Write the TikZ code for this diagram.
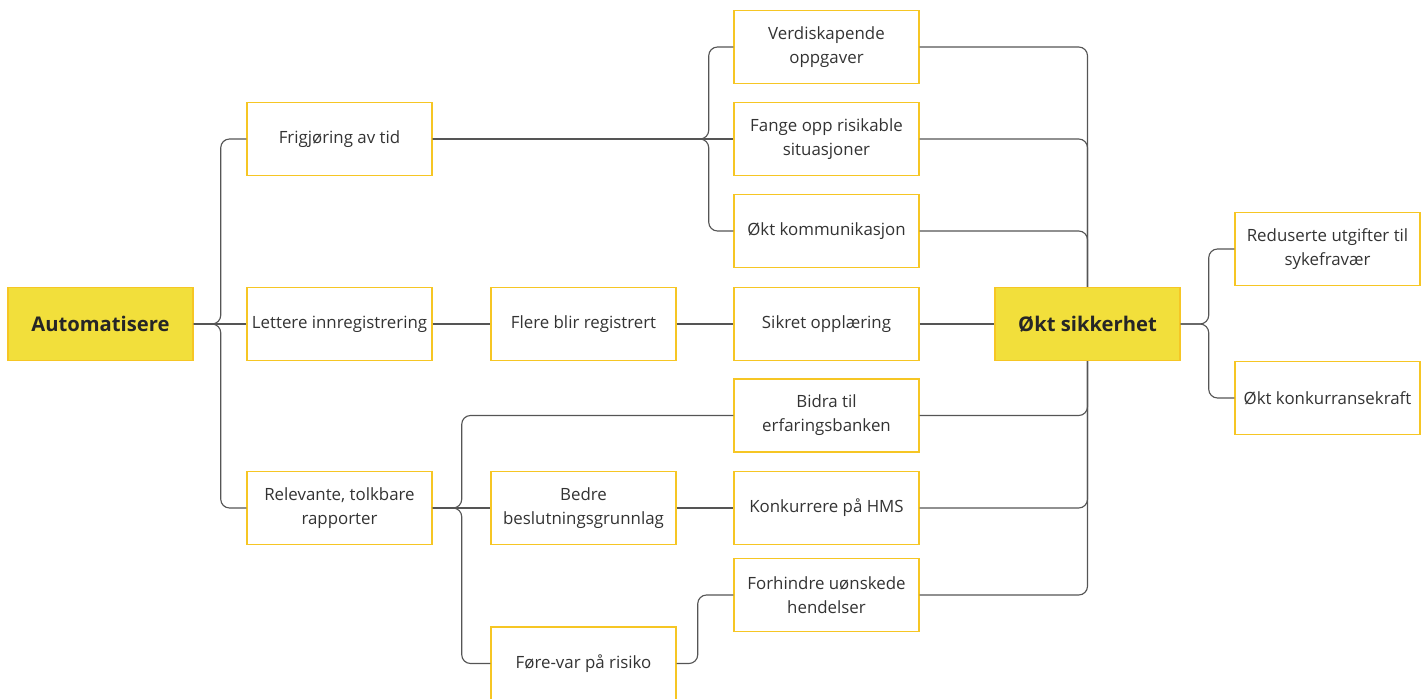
\documentclass[tikz,border=0pt]{standalone}
\usepackage{fontspec}
\setmainfont{Open Sans}

\definecolor{boxline}{HTML}{F6C624}
\definecolor{boxfill}{HTML}{F2DF3B}
\definecolor{linkgray}{HTML}{555555}
\definecolor{textgray}{HTML}{333333}

\begin{document}
\begin{tikzpicture}[x=0.02cm, y=-0.02cm,
    box/.style={draw=boxline, line width=0.85pt, minimum width=3.7cm, minimum height=1.46cm, inner sep=1pt, align=center, text=textgray, font=\fontsize{9.6}{13.6}\selectfont},
    keybox/.style={box, fill=boxfill, text=black!85, font=\fontsize{11.5}{13.6}\selectfont\bfseries},
    link/.style={draw=linkgray, line width=0.65pt, rounded corners=5pt}]
    \useasboundingbox (0, 0) rectangle (1427, 699);

    % BLOCKS
    \node (auto) at (100.5, 324) [keybox] {Automatisere};

    \node (frig) at (339.5, 139) [box] {Frigjøring av tid};
    \node (lett) at (339.5, 324) [box] {Lettere innregistrering};
    \node (rel) at (339.5, 508) [box] {Relevante, tolkbare\\rapporter};

    \node (flere) at (583.5, 324) [box] {Flere blir registrert};
    \node (bedre) at (583.5, 508) [box] {Bedre\\beslutningsgrunnlag};
    \node (fore) at (583.5, 663.5) [box] {Føre-var på risiko};

    \node (verd) at (826.5, 47) [box] {Verdiskapende\\oppgaver};
    \node (fange) at (826.5, 139) [box] {Fange opp risikable\\situasjoner};
    \node (komm) at (826.5, 231) [box] {Økt kommunikasjon};
    \node (sikret) at (826.5, 324) [box] {Sikret opplæring};
    \node (bidra) at (826.5, 415.5) [box] {Bidra til\\erfaringsbanken};
    \node (konk) at (826.5, 508) [box] {Konkurrere på HMS};
    \node (forh) at (826.5, 595) [box] {Forhindre uønskede\\hendelser};

    \node (okt) at (1087.5, 324) [keybox] {Økt sikkerhet};

    \node (utg) at (1327.5, 249) [box] {Reduserte utgifter til\\sykefravær};
    \node (kraft) at (1327.5, 398) [box] {Økt konkurransekraft};

    % CONNEXIONS
    % From Automatisere
    \draw[link] (auto.east) -- ++(27, 0) |- (frig.west);
    \draw[link] (auto.east) -- (lett.west);
    \draw[link] (auto.east) -- ++(27, 0) |- (rel.west);

    % Second level
    \draw[link] (frig.east) -- ++(276, 0) |- (verd.west);
    \draw[link] (frig.east) -- (fange.west);
    \draw[link] (frig.east) -- ++(276, 0) |- (komm.west);

    \draw[link] (lett) -- (flere);
    \draw[link] (flere) -- (sikret);

    \draw[link] (rel.east) -- ++(29, 0) |- (bidra.west);
    \draw[link] (rel.east) -- (bedre.west);
    \draw[link] (rel.east) -- ++(29, 0) |- (fore.west);

    \draw[link] (bedre) -- (konk);
    \draw[link] (fore.east) -- ++(21, 0) |- (forh.west);

    % Into Økt sikkerhet
    \draw[link] (verd.east) -| (okt.north);
    \draw[link] (fange.east) -| (okt.north);
    \draw[link] (komm.east) -| (okt.north);
    \draw[link] (sikret) -- (okt);
    \draw[link] (bidra.east) -| (okt.south);
    \draw[link] (konk.east) -| (okt.south);
    \draw[link] (forh.east) -| (okt.south);

    % Out of Økt sikkerhet
    \draw[link] (okt.east) -- ++(28, 0) |- (utg.west);
    \draw[link] (okt.east) -- ++(28, 0) |- (kraft.west);
\end{tikzpicture}
\end{document}
